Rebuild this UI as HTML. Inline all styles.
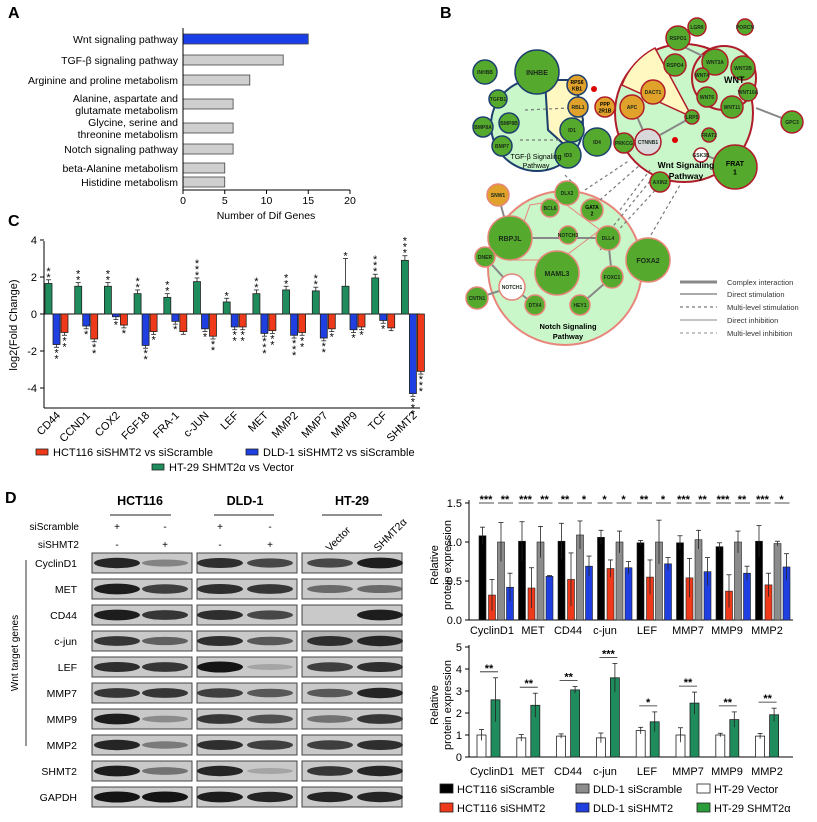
<!DOCTYPE html>
<html><head><meta charset="utf-8">
<style>
html,body{margin:0;padding:0;background:#fff;}
svg{display:block;font-family:"Liberation Sans",Arial,sans-serif;}
</style></head>
<body>
<svg id="s" width="817" height="822" viewBox="0 0 817 822" xmlns="http://www.w3.org/2000/svg">
<text x="8" y="18" font-size="16" font-weight="bold">A</text>
<text x="440" y="18" font-size="16" font-weight="bold">B</text>
<text x="8" y="226" font-size="16" font-weight="bold">C</text>
<text x="5" y="503" font-size="16" font-weight="bold">D</text>
</svg>
<script>
const S=document.getElementById('s');const NS='http://www.w3.org/2000/svg';
function el(t,a,txt){const e=document.createElementNS(NS,t);for(const k in a)e.setAttribute(k,a[k]);if(txt!==undefined)e.textContent=txt;S.appendChild(e);return e;}
function tx(x,y,s,o){o=o||{};return el('text',Object.assign({x:x,y:y,'font-size':11},o),s);}
function ln(x1,y1,x2,y2,c,w,d){return el('line',{x1,y1,x2,y2,stroke:c||'#000','stroke-width':w||1,'stroke-dasharray':d||'none'});}
function rc(x,y,w,h,f,s,sw){return el('rect',{x,y,width:w,height:h,fill:f,stroke:s||'none','stroke-width':sw||1});}

// ===== Panel A =====
const A=[["Wnt signaling pathway",15,39,1],["TGF-\u03b2 signaling pathway",12,60],["Arginine and proline metabolism",8,80],["Alanine, aspartate and|glutamate metabolism",6,104],["Glycine, serine and|threonine metabolism",6,128],["Notch signaling pathway",6,149],["beta-Alanine metabolism",5,168],["Histidine metabolism",5,182]];
A.forEach(a=>{const w=a[1]*8.35;rc(183,a[2]-5,w,10,a[3]?'#1a3fe6':'#cfcfcf','#444',0.8);
 const p=a[0].split('|');if(p.length==1)tx(178,a[2]+4,p[0],{'text-anchor':'end','font-size':10.5});else{tx(178,a[2]-2,p[0],{'text-anchor':'end','font-size':10.5});tx(178,a[2]+10,p[1],{'text-anchor':'end','font-size':10.5});}});
ln(183,28,183,190);ln(183,190,350,190);
[0,5,10,15,20].forEach(v=>{const x=183+v*8.35;ln(x,190,x,194);tx(x,204,v,{'text-anchor':'middle','font-size':10.5});});
tx(266,219,"Number of Dif Genes",{'text-anchor':'middle','font-size':10.5});

// ===== Panel C =====
const Y0=314,SC=18.5;
ln(44,241,44,408);ln(44,408,420,408);ln(44,Y0,420,Y0);
[4,2,0,-2,-4].forEach(v=>{const y=Y0-v*SC;ln(40,y,44,y);tx(37,y+4,v,{'text-anchor':'end','font-size':11});});
el('text',{x:0,y:0,'font-size':11,transform:'translate(17,325) rotate(-90)','text-anchor':'middle'},"log2(Fold Change)");
const C=[["CD44",1.65,-1.65,-1.0,"**","**","**"],["CCND1",1.5,-0.65,-1.35,"**","*","**"],["COX2",1.5,-0.15,-0.6,"**","*","*"],["FGF18",1.1,-1.7,-0.95,"**","**","*"],["FRA-1",0.9,-0.4,-0.95,"**","*",""],["c-JUN",1.75,-0.8,-1.2,"***","*","**"],["LEF",0.65,-0.7,-0.7,"*","**","**"],["MET",1.1,-1.05,-0.9,"**","***","**"],["MMP2",1.3,-1.15,-1.0,"**","***","**"],["MMP7",1.25,-1.3,-0.8,"**","**","*"],["MMP9",1.5,-0.85,-0.7,"*","*","*"],["TCF",1.95,-0.35,-0.75,"***","*",""],["SHMT2",2.9,-4.3,-3.1,"***","***","***"]];
function vbar(x,w,v,f,err){const y=Y0-Math.max(v,0)*SC,h=Math.abs(v)*SC;rc(x,y,w,h,f,'#222',0.8);
 const ye=v>0?y-err*SC:y+h+err*SC, yb=v>0?y:y+h;ln(x+w/2,yb,x+w/2,ye,'#222',0.8);ln(x+1,ye,x+w-1,ye,'#222',0.8);return ye;}
function stars(x,y,s,up){for(let i=0;i<s.length;i++){tx(x,up?y+1-i*6:y+9+i*6,"*",{'text-anchor':'middle','font-size':11});}}
C.forEach((c,i)=>{const x=45+i*29.7;
 let e=c[1]>2.5?0.25:(i==10?1.5:0.2);const g=vbar(x,7,c[1],'#1e8c5c',e);stars(x+3.5,g,c[4],1);
 const b=vbar(x+8,7,c[2],'#1f3fe0',0.15);stars(x+11.5,b,c[5],0);
 const r=vbar(x+16,7,c[3],'#ee3a1a',0.15);stars(x+19.5,r,c[6],0);
 el('text',{x:0,y:0,'font-size':11,'text-anchor':'end',transform:`translate(${x+16},${416}) rotate(-45)`},c[0]);});
rc(36,449,12,6,'#ee3a1a','#222',0.8);tx(53,456,"HCT116  siSHMT2 vs siScramble",{'font-size':11});
rc(246,449,12,6,'#1f3fe0','#222',0.8);tx(263,456,"DLD-1  siSHMT2 vs siScramble",{'font-size':11});
rc(152,464,12,6,'#1e8c5c','#222',0.8);tx(169,471,"HT-29 SHMT2\u03b1 vs Vector",{'font-size':11});

// ===== Panel B network =====
el('circle',{cx:565,cy:268,r:77,fill:'#c9f7c9',stroke:'#e8857a','stroke-width':2});
el('circle',{cx:537,cy:125,r:46,fill:'#c9f7c9',stroke:'#1d3f6e','stroke-width':2});
el('path',{d:'M545 80 L548 130 L568 148 L583 120 L575 80 Z',fill:'#fff8c0',stroke:'#1d3f6e','stroke-width':2});
el('circle',{cx:684,cy:113,r:69,fill:'#c9f7c9',stroke:'#b01c2a','stroke-width':2});
el('path',{d:'M622 85 A69 69 0 0 1 655 48 L692 117 Z',fill:'#fff8c0',stroke:'#b01c2a','stroke-width':1.5});
el('circle',{cx:724,cy:78,r:32,fill:'#c9f7c9',stroke:'#b01c2a','stroke-width':2});
el('path',{d:'M530 205 L560 200 L600 230 L560 260 L510 260 Z',fill:'#c9f7c9',stroke:'#e8857a','stroke-width':1});
[[585,190,630,160],[600,200,640,165],[620,210,650,170],[610,230,655,175],[600,250,660,185],[648,240,680,185],[565,175,575,185],[525,110,570,108],[520,140,560,140]].forEach(l=>ln(l[0],l[1],l[2],l[3],'#777',1.2,'3,3'));
[[510,238,608,238],[635,112,648,142],[692,117,660,135],[705,155,735,167],[612,277,608,238],[612,277,580,305],[512,287,485,257],[512,287,535,305],[477,298,512,287],[498,195,510,238],[756,108,792,122],[680,45,715,62]].forEach(l=>ln(l[0],l[1],l[2],l[3],'#888',2));
const N=[["INHBB",485,72,12,'g'],["INHBE",537,72,22,'g'],["RPS6|KB1",577,85,10,'o'],["PPP|2R1B",605,107,10,'o'],["RBL1",578,107,10,'o'],["TGFB1",498,99,9,'g'],["BMP8B",509,123,10,'g'],["BMP8A",483,127,10,'g'],["BMP7",502,146,10,'g'],["ID1",572,130,12,'g'],["ID4",597,142,14,'g'],["ID3",568,155,13,'g'],["APC",632,107,12,'o'],["DACT1",653,92,12,'o'],["PRKCG",624,143,10,'g'],["CTNNB1",648,142,13,'x'],["LRP5",692,117,7,'g'],["FRAT2",709,135,7,'g'],["GSK3B",701,155,7,'w'],["FRAT|1",735,167,22,'g'],["AXIN2",660,182,10,'g'],["RSPO1",678,38,12,'g'],["LGR6",697,27,9,'g'],["PORCN",745,27,8,'g'],["WNT3A",715,62,13,'g'],["RSPO4",675,65,11,'g'],["WNT4",702,75,7,'g'],["WNT2B",743,68,12,'g'],["WNT6",707,97,10,'g'],["WNT10A",748,92,9,'g'],["WNT11",732,107,11,'g'],["GPC3",792,122,11,'g'],["DLX2",567,193,12,'g'],["BCL6",550,208,9,'g'],["GATA|2",592,210,11,'g'],["NOTCH3",568,235,9,'g'],["DLL4",608,238,12,'g'],["RBPJL",510,238,22,'g'],["MAML3",557,273,22,'g'],["FOXC1",612,277,11,'g'],["FOXA2",648,260,22,'g'],["DNER",485,257,10,'g'],["NOTCH1",512,287,13,'w'],["CNTN1",477,298,11,'g'],["DTX4",535,305,10,'g'],["HEY1",580,305,10,'g'],["SNW1",498,195,11,'o']];
N.forEach(n=>{const fill={g:'#55a92d',o:'#e0a22a',x:'#d9d9dc',w:'#ffffff'}[n[4]];
 const st=n[1]<600&&n[2]<170&&n[2]>60?'#1d3f6e':(n[2]>185?'#e8857a':'#b01c2a');
 el('circle',{cx:n[1],cy:n[2],r:n[3],fill:fill,stroke:st,'stroke-width':1.5});
 const fs=n[3]>=20?7:5;const p=n[0].split('|');
 if(p.length==1)tx(n[1],n[2]+fs/2.5,p[0],{'text-anchor':'middle','font-size':fs,'font-weight':'bold','fill':'#1a2a1a'});
 else{tx(n[1],n[2]-1,p[0],{'text-anchor':'middle','font-size':fs,'font-weight':'bold'});tx(n[1],n[2]+fs+0.5,p[1],{'text-anchor':'middle','font-size':fs,'font-weight':'bold'});}});
el('circle',{cx:594,cy:89,r:3,fill:'#d00'});el('circle',{cx:675,cy:140,r:3,fill:'#d00'});
tx(724,83,"WNT",{'font-size':9,'font-weight':'bold'});
tx(536,159,"TGF-\u03b2 Signaling",{'text-anchor':'middle','font-size':7});tx(536,168,"Pathway",{'text-anchor':'middle','font-size':7});
tx(686,168,"Wnt Signaling",{'text-anchor':'middle','font-size':8.5,'font-weight':'bold'});tx(686,179,"Pathway",{'text-anchor':'middle','font-size':8.5,'font-weight':'bold'});
tx(568,329,"Notch Signaling",{'text-anchor':'middle','font-size':7.5,'font-weight':'bold'});tx(568,339,"Pathway",{'text-anchor':'middle','font-size':7.5,'font-weight':'bold'});
ln(680,282,717,282,'#888',3);ln(680,294,717,294,'#777',1.2);ln(680,307,717,307,'#777',1.2,'3,3');ln(680,320,717,320,'#888',1);ln(680,333,717,333,'#888',1,'3,3');
["Complex interaction","Direct stimulation","Multi-level stimulation","Direct inhibition","Multi-level inhibition"].forEach((t,i)=>tx(727,[285,297,310,323,336][i],t,{'font-size':7.5,fill:'#333'}));

// ===== Panel D blots =====
[["HCT116",140,110,171],["DLD-1",245,214,274],["HT-29",352,322,382]].forEach(h=>{tx(h[1],505,h[0],{'text-anchor':'middle','font-size':12.5,'font-weight':'bold'});ln(h[2],515,h[3],515,'#222',1);});
tx(79,530,"siScramble",{'text-anchor':'end','font-size':10});tx(79,548,"siSHMT2",{'text-anchor':'end','font-size':10});
[[117,"+","-"],[165,"-","+"],[220,"+","-"],[270,"-","+"]].forEach(c=>{tx(c[0],530,c[1],{'text-anchor':'middle','font-size':10});tx(c[0],548,c[2],{'text-anchor':'middle','font-size':10});});
el('text',{x:0,y:0,'font-size':10.5,transform:'translate(330,552) rotate(-45)'},"Vector");
el('text',{x:0,y:0,'font-size':10.5,transform:'translate(378,552) rotate(-45)'},"SHMT2\u03b1");
ln(26,560,26,746,'#333',1);
el('text',{x:0,y:0,'font-size':10,transform:'translate(18,653) rotate(-90)','text-anchor':'middle'},"Wnt target genes");
const rows=["CyclinD1","MET","CD44","c-jun","LEF","MMP7","MMP9","MMP2","SHMT2","GAPDH"];
const inten=[[.9,.35,.85,.7,.7,.95],[.95,.75,.85,.8,.5,.5],[.95,.8,.85,.7,0,.95],[.8,.55,.85,.6,.85,.9],[.85,.8,1,.15,.75,.85],[.8,.8,.75,.6,.6,.9],[.95,.3,.8,.65,.45,.8],[.9,.4,.85,.75,.75,.85],[.95,.45,.9,.15,.8,.9],[1,1,.95,.9,.9,.9]];
const lanes=[[92,117,165],[197,220,270],[302,330,380]];
rows.forEach((r,i)=>{const y=553+i*26;tx(77,y+14,r,{'text-anchor':'end','font-size':10.5});
 lanes.forEach((L,j)=>{rc(L[0],y,100,20,j==2&&i==3?'#b5b5b5':'#c9c9c9','#444',1);
 [1,2].forEach(k=>{const v=inten[i][j*2+k-1];if(v>0){const g=Math.round(190-v*170);el('ellipse',{cx:L[k],cy:y+10,rx:23,ry:2.5+v*3,fill:`rgb(${g},${g},${g})`});}});});});

// ===== D top chart =====
const T0=620,TS=78;ln(469,500,469,T0);ln(469,T0,793,T0);
[0,0.5,1.0,1.5].forEach(v=>{const y=T0-v*TS;ln(465,y,469,y);tx(462,y+4,v.toFixed(1),{'text-anchor':'end','font-size':11});});
el('text',{x:0,y:0,'font-size':11,transform:'translate(438,565) rotate(-90)','text-anchor':'middle'},"Relative");
el('text',{x:0,y:0,'font-size':11,transform:'translate(451,565) rotate(-90)','text-anchor':'middle'},"protein expression");
const cats=["CyclinD1","MET","CD44","c-jun","LEF","MMP7","MMP9","MMP2"];const cx=[492,533,568,605,647,688,727,767];
const TV=[[1.08,.32,1.0,.42],[1.01,.41,1.0,.56],[1.01,.52,1.09,.69],[1.06,.66,1.0,.67],[.99,.55,1.0,.72],[.99,.54,1.03,.62],[.94,.37,1.0,.6],[1.01,.45,.98,.68]];
const TE=[[.11,.2,.25,.18],[.25,.26,.2,.01],[.23,.34,.18,.13],[.09,.11,.14,.08],[.03,.22,.28,.08],[.09,.25,.12,.18],[.05,.21,.14,.09],[.2,.15,.03,.17]];
const TS_=[["***","**"],["***","**"],["**","*"],["*","*"],["**","*"],["***","**"],["***","**"],["***","*"]];
const TC=['#000','#ee3a1a','#8c8c8c','#1f3fe0'];
TV.forEach((g,i)=>{const x0=479+i*39.5;g.forEach((v,k)=>{const x=x0+[0,9.5,18.5,27.5][k];const y=T0-v*TS;rc(x,y,7,v*TS,TC[k],'#222',0.6);
 const e=TE[i][k]*TS;ln(x+3.5,y-e,x+3.5,y+e,'#222',0.8);ln(x+1,y-e,x+6,y-e,'#222',0.8);});
 ln(x0,503,x0+15,503,'#222',0.8);ln(x0+19,503,x0+34,503,'#222',0.8);
 tx(x0+7,503,TS_[i][0],{'text-anchor':'middle','font-size':11,'font-weight':'bold'});tx(x0+26,503,TS_[i][1],{'text-anchor':'middle','font-size':11,'font-weight':'bold'});
 tx(cx[i],634,cats[i],{'text-anchor':'middle','font-size':11});});

// ===== D bottom chart =====
const B0=757,BS=22;ln(469,645,469,B0);ln(469,B0,793,B0);
[0,1,2,3,4,5].forEach(v=>{const y=B0-v*BS;ln(465,y,469,y);tx(462,y+4,v,{'text-anchor':'end','font-size':11});});
el('text',{x:0,y:0,'font-size':11,transform:'translate(438,705) rotate(-90)','text-anchor':'middle'},"Relative");
el('text',{x:0,y:0,'font-size':11,transform:'translate(451,705) rotate(-90)','text-anchor':'middle'},"protein expression");
const BV=[[1,2.6,.25,1],[.87,2.35,.15,.55],[.95,3.05,.1,.15],[.87,3.6,.22,.65],[1.2,1.6,.15,.45],[1,2.45,.33,.5],[1,1.7,.08,.35],[.95,1.92,.12,.3]];
const BSt=["**","**","**","***","*","**","**","**"];
BV.forEach((g,i)=>{const x0=477+i*39.8;
 let y=B0-g[0]*BS;rc(x0,y,9,g[0]*BS,'#fff','#222',0.8);let e=g[2]*BS;ln(x0+4.5,y-e,x0+4.5,y+e,'#222',0.8);ln(x0+2,y-e,x0+7,y-e,'#222',0.8);
 y=B0-g[1]*BS;rc(x0+14,y,9,g[1]*BS,'#1e8c5c','#222',0.8);e=g[3]*BS;ln(x0+18.5,y-e,x0+18.5,y+e,'#222',0.8);ln(x0+16,y-e,x0+21,y-e,'#222',0.8);
 const ys=y-e-6;ln(x0+3,ys,x0+21,ys,'#222',0.8);tx(x0+12,ys,BSt[i],{'text-anchor':'middle','font-size':11,'font-weight':'bold'});
 tx(cx[i],775,cats[i],{'text-anchor':'middle','font-size':11});});

[["HCT116 siScramble",440,793,'#000'],["DLD-1 siScramble",576,793,'#8c8c8c'],["HT-29 Vector",697,793,'#fff'],["HCT116 siSHMT2",440,812,'#ee3a1a'],["DLD-1 siSHMT2",576,812,'#1f3fe0'],["HT-29 SHMT2\u03b1",697,812,'#2a9d3a']].forEach(l=>{rc(l[1],l[2]-9,13,9,l[3],'#222',0.8);tx(l[1]+17,l[2],l[0],{'font-size':11});});
</script>
</body></html>
